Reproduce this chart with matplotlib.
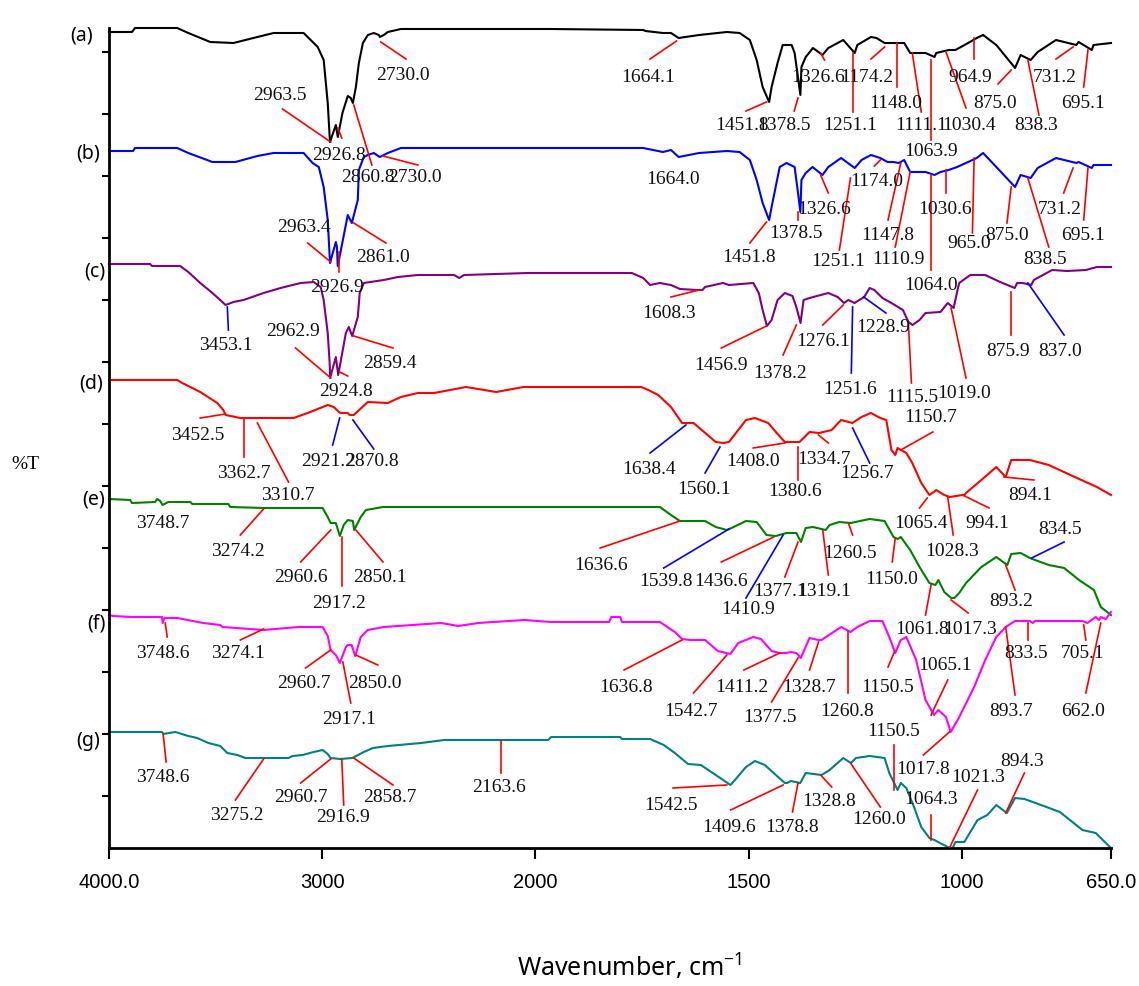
import numpy as np
import matplotlib
matplotlib.use('Agg')
import matplotlib.pyplot as plt

# FTIR spectra, stacked: (wavenumber cm-1, %T offset units)
spec_a = [(4000, 816), (3892, 816), (3878, 820), (3680, 820), (3628, 815), (3525, 806), (3416, 805),
          (3304, 811), (3228, 815), (3087, 815), (3054, 808), (3021, 801), (2993, 788), (2974, 745),
          (2963.5, 706), (2936, 723), (2926.8, 711), (2905, 735), (2880, 752), (2866, 750), (2856, 745),
          (2842, 761), (2828, 785), (2809, 805), (2786, 813), (2758, 815), (2734, 813), (2730, 811),
          (2711, 813), (2692, 816), (2631, 819), (1963, 819), (1747, 818), (1742, 817), (1701, 815),
          (1682, 815), (1664.1, 810), (1616, 813), (1551, 816), (1521, 815), (1497, 808), (1481, 788),
          (1467, 761), (1451.8, 746), (1446, 761), (1432, 785), (1420, 803), (1399, 803), (1392, 795),
          (1378.5, 753), (1376, 781), (1366, 791), (1349, 800), (1326.6, 793), (1313, 800), (1278, 808),
          (1251.1, 795), (1245, 803), (1213, 811), (1200, 810), (1181, 805), (1148, 805), (1135, 805),
          (1121, 795), (1111.1, 795), (1085, 795), (1063.9, 791), (1060, 795), (1030.4, 798), (1015, 798),
          (985, 805), (964.9, 810), (950, 813), (919, 803), (875, 780), (862, 793), (838.3, 788), (822, 796),
          (779, 808), (731.2, 803), (726, 806), (695.1, 798), (691, 803), (650, 805)]

spec_b = [(4000, 697), (3887, 697), (3878, 700), (3680, 700), (3628, 695), (3515, 686), (3407, 686),
          (3304, 692), (3228, 695), (3087, 695), (3045, 685), (3016, 681), (2993, 661), (2974, 628),
          (2963.4, 585), (2936, 606), (2931, 601), (2926.9, 582), (2880, 633), (2861, 625), (2833, 648),
          (2828, 678), (2805, 691), (2786, 693), (2758, 695), (2730, 691), (2692, 695), (2631, 700),
          (1963, 700), (1747, 700), (1701, 696), (1682, 698), (1664, 691), (1616, 695), (1551, 697),
          (1521, 696), (1497, 688), (1481, 668), (1467, 645), (1451.8, 628), (1446, 641), (1427, 681),
          (1411, 685), (1392, 681), (1384, 655), (1378.5, 636), (1376, 668), (1366, 675), (1350, 681),
          (1326.6, 673), (1313, 681), (1283, 690), (1251.1, 680), (1235, 688), (1213, 693), (1191, 690),
          (1174, 686), (1160, 686), (1147.8, 685), (1135, 688), (1121, 676), (1110.9, 676), (1085, 676),
          (1064, 673), (1050, 676), (1030.6, 678), (1011, 681), (985, 686), (965, 690), (950, 695),
          (919, 681), (875, 661), (862, 673), (838.5, 670), (822, 680), (779, 690), (731.2, 685),
          (726, 686), (695.1, 680), (691, 683), (650, 683)]

spec_c = [(4000, 584), (3807, 584), (3798, 582), (3666, 582), (3628, 576), (3572, 565), (3515, 555),
          (3468, 546), (3453.1, 543), (3416, 546), (3369, 548), (3275, 555), (3195, 560), (3101, 565),
          (3040, 566), (3007, 561), (2993, 548), (2974, 515), (2965, 485), (2962.9, 470), (2936, 491),
          (2924.8, 473), (2889, 515), (2875, 521), (2859.4, 512), (2833, 531), (2824, 555), (2805, 565),
          (2711, 568), (2645, 571), (2551, 573), (2381, 573), (2358, 570), (2334, 573), (2033, 575),
          (1774, 575), (1747, 570), (1731, 563), (1708, 565), (1682, 563), (1661, 559), (1621, 558),
          (1608.3, 558), (1602, 561), (1560, 565), (1546, 563), (1489, 565), (1476, 555), (1467, 538),
          (1456.9, 522), (1446, 528), (1432, 548), (1415, 555), (1397, 552), (1388, 541), (1378.2, 525),
          (1371, 548), (1357, 550), (1313, 555), (1291, 551), (1276.1, 545), (1266, 548), (1251.6, 545),
          (1228.9, 551), (1216, 560), (1205, 558), (1186, 550), (1165, 545), (1138, 538), (1125, 526),
          (1115.5, 523), (1099, 528), (1085, 535), (1050, 536), (1033, 545), (1019, 540), (1011, 556),
          (1006, 565), (980, 573), (945, 573), (910, 566), (875.9, 560), (870, 565), (857, 565),
          (837, 563), (831, 568), (788, 578), (753, 577), (709, 578), (683, 581), (650, 581)]

spec_d = [(4000, 468), (3680, 468), (3656, 465), (3572, 456), (3492, 445), (3464, 438), (3452.5, 433),
          (3384, 430), (3362.7, 430), (3310.7, 430), (3134, 430), (3068, 435), (2974, 443), (2946, 441),
          (2921.2, 436), (2913, 435), (2880, 435), (2870.8, 433), (2852, 433), (2786, 446), (2692, 445),
          (2631, 451), (2551, 455), (2475, 455), (2325, 461), (2184, 456), (2056, 461), (1752, 461),
          (1735, 458), (1712, 453), (1682, 441), (1656, 425), (1638.4, 425), (1629, 425), (1577, 406),
          (1560.1, 405), (1546, 406), (1506, 428), (1485, 430), (1454, 425), (1436, 416), (1415, 406),
          (1408, 406), (1380.6, 406), (1357, 416), (1334.7, 415), (1305, 418), (1283, 428), (1256.7, 425),
          (1235, 431), (1213, 435), (1191, 430), (1177, 428), (1165, 398), (1156, 393), (1150.7, 400),
          (1130, 395), (1116, 385), (1095, 365), (1076, 353), (1065.4, 356), (1060, 358), (1041, 353),
          (1028.3, 351), (998, 353), (994.1, 353), (990, 355), (954, 368), (919, 381), (897, 371),
          (884, 388), (840, 388), (796, 383), (735, 371), (683, 361), (650, 353)]

spec_e = [(4000, 349), (3901, 348), (3892, 345), (3784, 346), (3774, 349), (3760, 347), (3748.7, 343),
          (3722, 346), (3619, 346), (3609, 344), (3440, 344), (3431, 341), (3274.2, 340), (2998, 340),
          (2974, 331), (2960.6, 325), (2936, 325), (2917.2, 312), (2899, 323), (2880, 328), (2856, 327),
          (2850.1, 318), (2819, 331), (2795, 338), (2715, 341), (1708, 341), (1682, 333), (1661, 327),
          (1602, 327), (1577, 321), (1551, 318), (1540, 320), (1506, 327), (1481, 326), (1458, 313),
          (1436.6, 312), (1410.9, 315), (1388, 315), (1377.1, 306), (1366, 320), (1349, 321),
          (1319.1, 318), (1310, 323), (1287, 326), (1260.5, 325), (1216, 329), (1181, 327), (1160, 311),
          (1150, 309), (1143, 311), (1121, 298), (1099, 281), (1076, 265), (1061.8, 263), (1055, 268),
          (1041, 256), (1025, 250), (1017.3, 250), (1006, 255), (990, 265), (954, 281), (919, 291),
          (893.2, 283), (884, 294), (862, 295), (840, 290), (834.5, 289), (796, 283), (760, 280),
          (725, 268), (690, 258), (674, 241), (650, 233)]

spec_f = [(4000, 233), (3981, 232), (3892, 231), (3751, 231), (3748.6, 225), (3740, 230), (3680, 230),
          (3558, 225), (3478, 223), (3468, 221), (3274.1, 218), (3111, 221), (2998, 221), (2974, 212),
          (2960.7, 198), (2936, 193), (2917.1, 185), (2889, 201), (2880, 203), (2862, 203), (2845, 192),
          (2819, 211), (2786, 218), (2711, 221), (2442, 225), (2362, 222), (2268, 225), (2052, 228),
          (1963, 226), (1827, 226), (1822, 231), (1801, 231), (1797, 226), (1708, 226), (1673, 216),
          (1656, 209), (1636.8, 208), (1602, 208), (1572, 197), (1542.7, 194), (1524, 205), (1489, 211),
          (1471, 209), (1446, 197), (1427, 195), (1411.2, 195), (1401, 196), (1388, 195), (1377.5, 190),
          (1357, 210), (1336, 208), (1328.7, 208), (1315, 212), (1283, 221), (1260.8, 216), (1245, 221),
          (1216, 227), (1186, 227), (1170, 211), (1156, 195), (1143, 208), (1130, 211), (1107, 188),
          (1085, 148), (1065.1, 133), (1055, 138), (1037, 131), (1026, 116), (1007, 130), (971, 161),
          (945, 188), (919, 211), (897, 221), (875, 227), (840, 227), (833.5, 225), (828, 227),
          (717, 227), (705.1, 225), (686, 231), (678, 228), (674, 231), (662, 229), (650, 236)]

spec_g = [(4000, 116), (3751, 116), (3746, 114), (3689, 116), (3628, 112), (3586, 110), (3534, 105),
          (3478, 102), (3445, 95), (3398, 93), (3360, 90), (3158, 90), (3139, 92), (3092, 93), (3040, 96),
          (2998, 98), (2974, 94), (2960.7, 90), (2916.9, 89), (2858.7, 90), (2805, 96), (2762, 100),
          (2692, 102), (2536, 105), (2428, 108), (2163.6, 108), (1970, 108), (1963, 111), (1801, 111),
          (1797, 109), (1731, 109), (1699, 103), (1673, 95), (1642, 84), (1612, 83), (1577, 73),
          (1542.5, 63), (1532, 68), (1506, 81), (1485, 87), (1462, 83), (1436, 73), (1415, 65),
          (1409.6, 65), (1401, 67), (1378.8, 65), (1366, 75), (1328.8, 73), (1310, 78), (1278, 90),
          (1260, 85), (1248, 90), (1216, 92), (1181, 90), (1170, 75), (1150.5, 58), (1143, 65),
          (1130, 60), (1112, 41), (1095, 21), (1076, 10), (1064.3, 8), (1033, 1), (1021.3, 0),
          (1015, 6), (994, 6), (963, 28), (940, 33), (919, 43), (894.3, 35), (875, 50), (853, 49),
          (814, 43), (770, 36), (717, 18), (686, 15), (650, 0)]

series_names = ['(a)', '(b)', '(c)', '(d)', '(e)', '(f)', '(g)']
series_data = [spec_a, spec_b, spec_c, spec_d, spec_e, spec_f, spec_g]
series_colors = ['#000000', '#0000ff', '#800080', '#ff0000', '#008000', '#ff00ff', '#008080']

# peak labels: text, leader start (wn, y), leader end (wn, y), text centre (wn, y), leader colour
peaks = [
    ('2963.5', 2960, 706, 3186, 739, 3200, 752, 'r'), ('2926.8', 2927, 720, 2908, 710, 2922, 692, 'r'),
    ('2860.8', 2852, 743, 2767, 683, 2786, 670, 'r'), ('2730.0', 2725, 806, 2607, 789, 2621, 772, 'r'),
    ('1664.1', 1669, 807, 1731, 789, 1736, 770, 'r'), ('1451.8', 1458, 746, 1506, 737, 1516, 722, 'r'),
    ('1378.5', 1384, 750, 1393, 737, 1418, 722, 'r'), ('1326.6', 1331, 795, 1322, 788, 1338, 770, 'r'),
    ('1174.2', 1181, 801, 1213, 789, 1223, 770, 'r'), ('1251.1', 1254, 795, 1254, 736, 1261, 722, 'r'),
    ('1148.0', 1151, 805, 1151, 761, 1156, 745, 'r'), ('1111.1', 1116, 795, 1095, 736, 1095, 722, 'r'),
    ('1063.9', 1072, 788, 1072, 708, 1073, 697, 'r'), ('1030.4', 1037, 796, 990, 740, 983, 723, 'r'),
    ('964.9', 971, 810, 971, 789, 980, 770, 'r'), ('875.0', 884, 778, 915, 764, 922, 745, 'r'),
    ('838.3', 845, 788, 819, 733, 826, 722, 'r'), ('731.2', 739, 801, 779, 789, 781, 770, 'r'),
    ('695.1', 704, 798, 714, 761, 716, 745, 'r'),
    ('2963.4', 2960, 586, 3068, 605, 3087, 621, 'r'), ('2926.9', 2922, 596, 2922, 576, 2932, 561, 'r'),
    ('2861.0', 2852, 625, 2701, 605, 2715, 590, 'r'), ('2730.0', 2715, 692, 2551, 683, 2565, 670, 'r'),
    ('1664.0', 1669, 691, 1669, 691, 1677, 669, 'r'), ('1451.8', 1458, 626, 1497, 605, 1500, 591, 'r'),
    ('1378.5', 1384, 636, 1384, 628, 1390, 615, 'r'), ('1326.6', 1331, 673, 1313, 655, 1322, 638, 'r'),
    ('1251.1', 1261, 670, 1287, 598, 1291, 587, 'r'), ('1174.0', 1191, 688, 1205, 682, 1200, 667, 'r'),
    ('1147.8', 1143, 685, 1173, 628, 1174, 612, 'r'), ('1110.9', 1121, 676, 1156, 601, 1149, 589, 'r'),
    ('1064.0', 1072, 673, 1072, 578, 1073, 563, 'r'), ('1030.6', 1037, 678, 1037, 655, 1039, 638, 'r'),
    ('965.0', 971, 690, 975, 615, 982, 605, 'r'), ('875.0', 884, 661, 894, 625, 894, 613, 'r'),
    ('838.5', 845, 670, 796, 601, 805, 589, 'r'), ('731.2', 739, 680, 761, 655, 770, 638, 'r'),
    ('695.1', 704, 680, 714, 628, 716, 612, 'r'),
    ('3453.1', 3445, 541, 3440, 518, 3454, 503, 'b'), ('2962.9', 2960, 470, 3125, 500, 3139, 516, 'r'),
    ('2924.8', 2918, 476, 2880, 472, 2889, 457, 'r'), ('2859.4', 2852, 512, 2668, 500, 2682, 484, 'r'),
    ('1608.3', 1616, 558, 1682, 551, 1687, 534, 'r'), ('1456.9', 1458, 522, 1564, 500, 1565, 482, 'r'),
    ('1378.2', 1388, 523, 1419, 493, 1425, 474, 'r'), ('1276.1', 1278, 543, 1326, 523, 1324, 507, 'r'),
    ('1251.6', 1256, 541, 1259, 475, 1263, 459, 'b'), ('1228.9', 1230, 551, 1178, 535, 1184, 520, 'b'),
    ('1115.5', 1125, 523, 1118, 465, 1116, 451, 'r'), ('1019.0', 1025, 540, 990, 470, 994, 455, 'r'),
    ('875.9', 884, 556, 884, 513, 891, 496, 'r'), ('837.0', 845, 565, 760, 513, 770, 496, 'b'),
    ('3452.5', 3454, 434, 3572, 430, 3586, 413, 'r'), ('3362.7', 3365, 430, 3365, 391, 3369, 375, 'r'),
    ('3310.7', 3304, 425, 3158, 366, 3162, 353, 'r'), ('2921.2', 2918, 430, 2951, 403, 2974, 386, 'b'),
    ('2870.8', 2856, 428, 2758, 399, 2767, 386, 'b'), ('1638.4', 1647, 423, 1731, 395, 1733, 378, 'b'),
    ('1560.1', 1567, 401, 1602, 375, 1605, 358, 'b'), ('1408.0', 1415, 405, 1489, 400, 1490, 386, 'r'),
    ('1380.6', 1385, 401, 1385, 368, 1390, 356, 'r'), ('1334.7', 1336, 413, 1313, 405, 1322, 388, 'r'),
    ('1256.7', 1256, 420, 1216, 385, 1223, 375, 'b'), ('1150.7', 1143, 398, 1068, 416, 1074, 431, 'r'),
    ('1065.4', 1081, 350, 1099, 340, 1095, 325, 'r'), ('1028.3', 1033, 351, 1020, 313, 1022, 297, 'r'),
    ('994.1', 998, 353, 936, 340, 940, 325, 'r'), ('894.1', 901, 371, 831, 368, 840, 353, 'r'),
    ('3748.7', 3746, 343, 3746, 343, 3746, 325, 'r'), ('3274.2', 3275, 339, 3384, 313, 3393, 296, 'r'),
    ('2960.6', 2960, 318, 3101, 286, 3101, 271, 'r'), ('2917.2', 2908, 311, 2908, 262, 2922, 245, 'r'),
    ('2850.1', 2842, 318, 2715, 286, 2729, 271, 'r'), ('1636.6', 1661, 327, 1848, 300, 1846, 283, 'r'),
    ('1539.8', 1546, 319, 1699, 280, 1694, 266, 'b'), ('1436.6', 1441, 311, 1564, 286, 1565, 266, 'r'),
    ('1410.9', 1419, 313, 1506, 250, 1502, 238, 'b'), ('1377.1', 1384, 306, 1415, 271, 1427, 257, 'r'),
    ('1319.1', 1326, 318, 1313, 273, 1322, 257, 'r'), ('1260.5', 1266, 325, 1256, 313, 1261, 295, 'r'),
    ('1150.0', 1156, 310, 1163, 286, 1165, 268, 'r'), ('1061.8', 1072, 263, 1085, 233, 1092, 219, 'r'),
    ('1017.3', 1025, 248, 985, 235, 980, 219, 'r'), ('893.2', 897, 283, 875, 258, 884, 246, 'r'),
    ('834.5', 836, 290, 760, 306, 770, 318, 'b'),
    ('3748.6', 3736, 225, 3727, 211, 3746, 195, 'r'), ('3274.1', 3275, 219, 3384, 208, 3393, 195, 'r'),
    ('2960.7', 2960, 198, 3078, 180, 3087, 165, 'r'), ('2850.0', 2842, 193, 2739, 183, 2753, 165, 'r'),
    ('2917.1', 2903, 186, 2866, 145, 2875, 129, 'r'), ('1636.8', 1656, 208, 1792, 178, 1787, 161, 'r'),
    ('1542.7', 1551, 193, 1629, 155, 1635, 136, 'r'), ('1411.2', 1427, 195, 1511, 178, 1516, 161, 'r'),
    ('1377.5', 1384, 190, 1446, 146, 1450, 131, 'r'), ('1328.7', 1336, 206, 1357, 178, 1359, 161, 'r'),
    ('1260.8', 1266, 216, 1266, 155, 1270, 136, 'r'), ('1150.5', 1158, 196, 1173, 181, 1174, 161, 'r'),
    ('1065.1', 1072, 133, 1033, 168, 1039, 182, 'r'), ('1017.8', 1029, 116, 1090, 93, 1090, 78, 'r'),
    ('893.7', 897, 221, 875, 153, 884, 136, 'r'), ('833.5', 845, 225, 845, 208, 849, 195, 'r'),
    ('705.1', 714, 223, 709, 208, 716, 195, 'r'), ('662.0', 674, 225, 709, 155, 716, 136, 'r'),
    ('3748.6', 3746, 114, 3732, 86, 3746, 70, 'r'), ('3275.2', 3275, 89, 3407, 48, 3402, 33, 'r'),
    ('2960.7', 2960, 89, 3101, 65, 3101, 50, 'r'), ('2916.9', 2908, 88, 2899, 43, 2903, 31, 'r'),
    ('2858.7', 2852, 90, 2668, 63, 2682, 50, 'r'), ('2163.6', 2160, 107, 2160, 75, 2169, 60, 'r'),
    ('1542.5', 1551, 63, 1677, 60, 1682, 43, 'r'), ('1409.6', 1419, 63, 1542, 38, 1546, 21, 'r'),
    ('1378.8', 1384, 65, 1397, 36, 1399, 21, 'r'), ('1328.8', 1331, 73, 1305, 61, 1310, 46, 'r'),
    ('1260.0', 1261, 85, 1191, 41, 1193, 29, 'r'), ('1150.5', 1158, 58, 1158, 103, 1160, 117, 'r'),
    ('1064.3', 1072, 8, 1072, 33, 1071, 48, 'r'), ('1021.3', 1029, 0, 963, 58, 961, 70, 'r'),
    ('894.3', 897, 35, 853, 75, 858, 86, 'r'),
]

x_ticks = [4000, 3000, 2000, 1500, 1000, 650]
x_ticklabels = ['4000.0', '3000', '2000', '1500', '1000', '650.0']


# wavenumber axis is expanded 2x below 2000 cm-1
def fwd(w):
    w = np.asarray(w, dtype=float)
    return np.where(w >= 2000, w, 2 * w - 2000)


def inv(u):
    u = np.asarray(u, dtype=float)
    return np.where(u >= 2000, u, (u + 2000) / 2)


fig = plt.figure(figsize=(11.39, 9.86), dpi=100)
ax = fig.add_axes([109 / 1139, 1 - 848 / 986, 1002 / 1139, 820 / 986])
ax.set_xscale('function', functions=(fwd, inv))

for name, data, col in zip(series_names, series_data, series_colors):
    d = np.array(data, dtype=float)
    ax.plot(d[:, 0], d[:, 1], color=col, lw=1.5, zorder=2, clip_on=False)

line_cols = {'r': '#ff0000', 'b': '#0000ff'}
for txt, x0, y0, x1, y1, tx, ty, c in peaks:
    if (x0, y0) != (x1, y1):
        ax.plot([x0, x1], [y0, y1], color=line_cols[c], lw=1.2, zorder=3)
    ax.text(tx, ty, txt, ha='center', va='center', fontsize=14, family='Liberation Serif',
            color='#111111', zorder=4)

ax.set_xlim(4000, 650)
ax.set_ylim(0, 820)
ax.set_xticks(x_ticks)
ax.set_xticklabels(x_ticklabels)
ax.set_yticks(np.arange(52, 800, 62))
ax.tick_params(axis='y', direction='out', length=5, width=1.5, labelleft=False)
ax.tick_params(axis='x', direction='out', length=8, width=1.5, pad=10, labelsize=14.5)
for lab in ax.get_xticklabels():
    lab.set_family('Liberation Sans')
ax.minorticks_off()
for s in ['top', 'right']:
    ax.spines[s].set_visible(False)
for s in ['left', 'bottom']:
    ax.spines[s].set_linewidth(2)

ax.set_xlabel(r'Wavenumber, cm$^{\mathregular{-1}}$', fontsize=18, family='Noto Sans')
ax.xaxis.label.set_va('center')
ax.xaxis.set_label_coords(0.52, -0.146)

label_pos = [(93, 35), (100, 153), (105, 272), (103, 383), (105, 500), (106, 624), (100, 741)]
for name, (px, py) in zip(series_names, label_pos):
    fig.text(px / 1139, 1 - py / 986, name, ha='right', va='center', fontsize=14, family='Noto Sans')
fig.text(25 / 1139, 1 - 465 / 986, '%T', ha='center', va='center', fontsize=14, family='Liberation Serif')

fig.savefig('out.png', dpi=100)
